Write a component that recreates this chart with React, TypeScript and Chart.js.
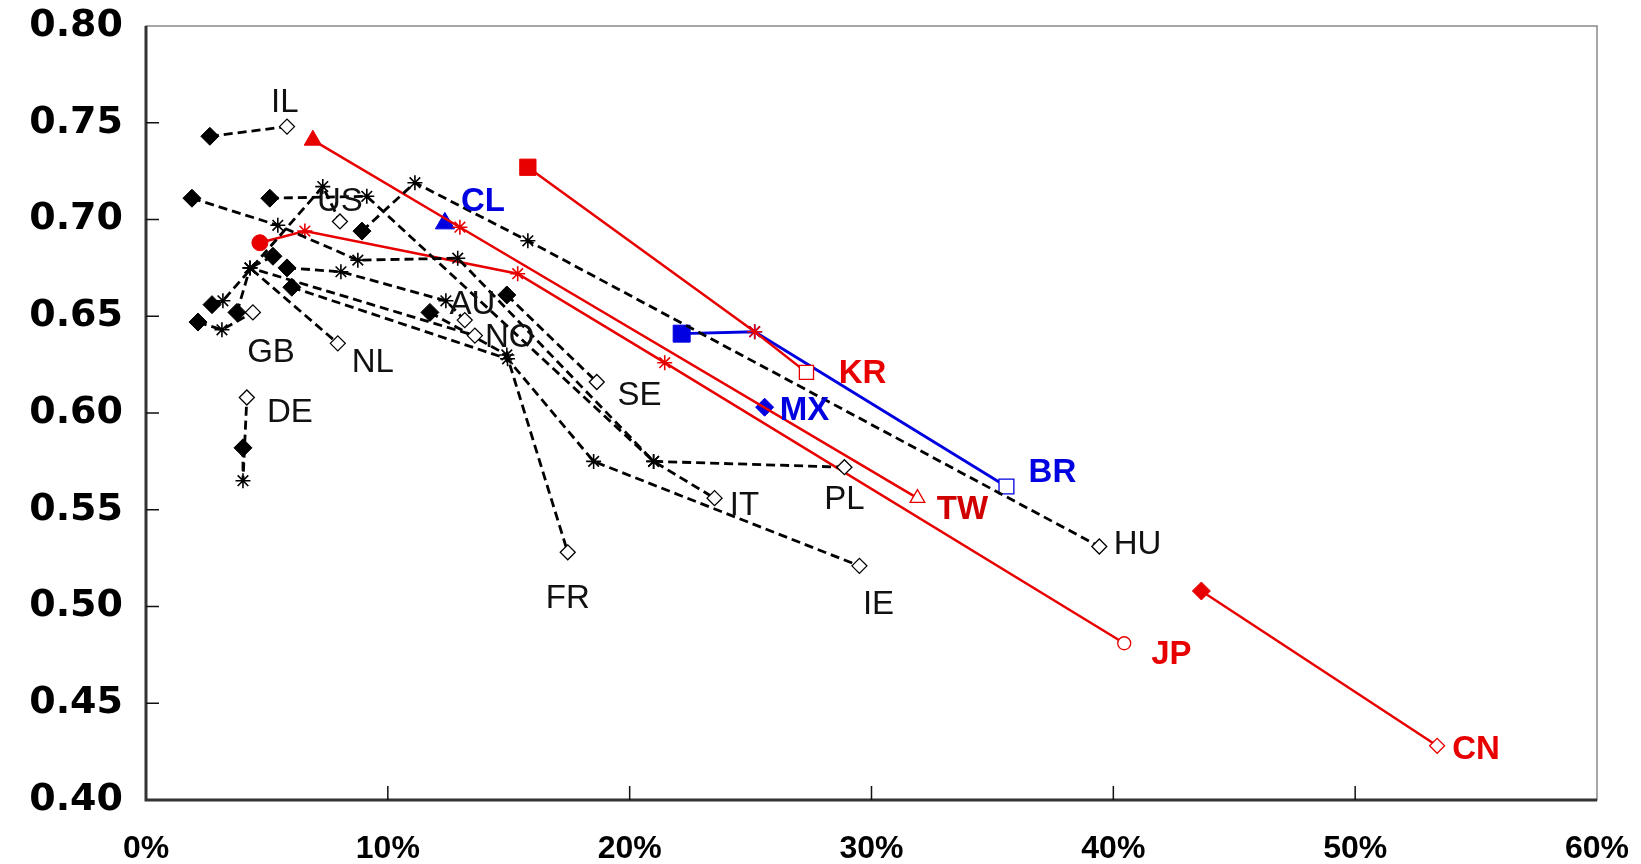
import React, { useEffect, useRef } from 'react';
import { Chart, registerables } from 'chart.js';

Chart.register(...registerables);

// ---------- tick labels ----------
const X_TICK_VALUES = [0, 10, 20, 30, 40, 50, 60];
const X_TICK_LABELS = ['0%', '10%', '20%', '30%', '40%', '50%', '60%'];
const Y_TICK_VALUES = [0.4, 0.45, 0.5, 0.55, 0.6, 0.65, 0.7, 0.75, 0.8];
const Y_TICK_LABELS = ['0.40', '0.45', '0.50', '0.55', '0.60', '0.65', '0.70', '0.75', '0.80'];

// ---------- series (x in %, y index) : first = filled, middle = asterisk, last = open ----------
const IL = [{ x: 2.64, y: 0.743 }, { x: 5.83, y: 0.748 }];
const US = [{ x: 2.73, y: 0.656 }, { x: 3.18, y: 0.658 }, { x: 7.31, y: 0.717 }, { x: 8.02, y: 0.699 }];
const GB = [{ x: 2.15, y: 0.647 }, { x: 3.14, y: 0.643 }, { x: 4.42, y: 0.652 }];
const NL = [{ x: 5.25, y: 0.681 }, { x: 4.3, y: 0.675 }, { x: 7.93, y: 0.636 }];
const DE = [{ x: 4.01, y: 0.582 }, { x: 4.01, y: 0.565 }, { x: 4.17, y: 0.608 }];
const HU = [{ x: 8.93, y: 0.694 }, { x: 11.12, y: 0.719 }, { x: 15.79, y: 0.689 }, { x: 39.42, y: 0.531 }];
const SE = [{ x: 14.92, y: 0.661 }, { x: 18.64, y: 0.616 }];
const IT = [{ x: 5.12, y: 0.711 }, { x: 9.13, y: 0.712 }, { x: 20.99, y: 0.575 }, { x: 23.51, y: 0.556 }];
const PL = [{ x: 1.9, y: 0.711 }, { x: 5.45, y: 0.697 }, { x: 8.76, y: 0.679 }, { x: 12.89, y: 0.68 }, { x: 20.99, y: 0.575 }, { x: 28.88, y: 0.572 }];
const AU = [{ x: 5.83, y: 0.675 }, { x: 8.06, y: 0.673 }, { x: 12.4, y: 0.658 }, { x: 13.18, y: 0.648 }];
const NO = [{ x: 3.76, y: 0.652 }, { x: 4.3, y: 0.675 }, { x: 13.6, y: 0.64 }];
const FR = [{ x: 11.74, y: 0.652 }, { x: 14.92, y: 0.63 }, { x: 17.44, y: 0.528 }];
const IE = [{ x: 6.03, y: 0.665 }, { x: 14.95, y: 0.628 }, { x: 18.51, y: 0.575 }, { x: 29.5, y: 0.521 }];

const JP = [{ x: 4.71, y: 0.688 }, { x: 6.57, y: 0.694 }, { x: 15.37, y: 0.672 }, { x: 21.45, y: 0.626 }, { x: 40.45, y: 0.481 }];
const TW = [{ x: 6.9, y: 0.741 }, { x: 12.98, y: 0.696 }, { x: 31.9, y: 0.556 }];
const KR = [{ x: 15.79, y: 0.727 }, { x: 25.17, y: 0.642 }, { x: 27.31, y: 0.621 }];
const CN = [{ x: 43.64, y: 0.508 }, { x: 53.39, y: 0.428 }];

const CL = [{ x: 12.36, y: 0.698 }];
const MX = [{ x: 25.58, y: 0.603 }];
const BR = [{ x: 22.15, y: 0.641 }, { x: 25.17, y: 0.642 }, { x: 35.58, y: 0.562 }];

// ---------- country labels (anchor in data units) ----------
const LABEL_TEXT = ['IL', 'US', 'GB', 'NL', 'DE', 'AU', 'NO', 'SE', 'FR', 'IT', 'PL', 'IE', 'HU', 'KR', 'BR', 'TW', 'MX', 'CL', 'JP', 'CN'];
const LABEL_X = [5.74, 8.02, 5.17, 9.38, 5.95, 13.5, 15.04, 20.41, 17.44, 24.75, 28.88, 30.29, 41.0, 29.63, 37.48, 33.76, 27.23, 13.93, 42.4, 55.0];
const LABEL_Y = [0.76, 0.709, 0.631, 0.626, 0.6, 0.656, 0.639, 0.609, 0.504, 0.552, 0.555, 0.501, 0.532, 0.62, 0.569, 0.55, 0.601, 0.709, 0.475, 0.426];

const BLACK = '#000000';
const RED = '#e80000';
const BLUE = '#0000e0';
const LABEL_COLOR: Record<string, string> = {
  KR: RED, TW: '#d00000', JP: RED, CN: RED, BR: BLUE, MX: BLUE, CL: BLUE,
};
const FONT = '"Liberation Sans", Arial, sans-serif';

type Style = { color: string; shape: string; dashed: boolean; width: number; r: number };

function makeDataset(label: string, data: { x: number; y: number }[], st: Style) {
  const n = data.length;
  return {
    label,
    data,
    showLine: true,
    tension: 0,
    borderColor: st.color,
    borderWidth: st.width,
    borderDash: st.dashed ? [9, 5] : [],
    pointStyle: (c: any) => {
      const i = c.dataIndex;
      if (n === 1 || i === 0 || i === n - 1) return st.shape;
      return 'star';
    },
    pointBackgroundColor: (c: any) => {
      const i = c.dataIndex;
      if (n > 1 && i === n - 1) return '#ffffff';
      return st.color;
    },
    pointBorderColor: st.color,
    pointBorderWidth: (c: any) => {
      const i = c.dataIndex;
      if (n === 1 || i === 0) return 1;
      if (i === n - 1) return 1.3;
      return 1.6;
    },
    pointRadius: (c: any) => {
      const i = c.dataIndex;
      if (n === 1 || i === 0) return st.r;
      if (i === n - 1) return st.r - 1.5;
      return 7.5;
    },
    pointHoverRadius: 0,
  };
}

const framePlugin = {
  id: 'frame',
  beforeDatasetsDraw(chart: any) {
    const { ctx, chartArea: a, scales } = chart;
    ctx.save();
    ctx.strokeStyle = '#888';
    ctx.lineWidth = 1.5;
    ctx.strokeRect(a.left, a.top, a.right - a.left, a.bottom - a.top);
    ctx.strokeStyle = '#333';
    ctx.lineWidth = 3;
    ctx.beginPath();
    ctx.moveTo(a.left, a.top);
    ctx.lineTo(a.left, a.bottom);
    ctx.lineTo(a.right, a.bottom);
    ctx.stroke();
    ctx.lineWidth = 1.5;
    ctx.strokeStyle = '#111';
    ctx.beginPath();
    Y_TICK_VALUES.slice(1, -1).forEach((v) => {
      const y = scales.y.getPixelForValue(v);
      ctx.moveTo(a.left, y);
      ctx.lineTo(a.left + 13, y);
    });
    X_TICK_VALUES.slice(1, -1).forEach((v) => {
      const x = scales.x.getPixelForValue(v);
      ctx.moveTo(x, a.bottom);
      ctx.lineTo(x, a.bottom - 14);
    });
    ctx.stroke();
    ctx.restore();
  },
};

const labelPlugin = {
  id: 'countryLabels',
  afterDatasetsDraw(chart: any) {
    const { ctx, scales } = chart;
    ctx.save();
    ctx.textAlign = 'center';
    ctx.textBaseline = 'middle';
    LABEL_TEXT.forEach((t, i) => {
      const col = LABEL_COLOR[t];
      ctx.font = (col ? 'bold ' : '') + '33px ' + FONT;
      ctx.fillStyle = col || '#111';
      ctx.fillText(t, scales.x.getPixelForValue(LABEL_X[i]), scales.y.getPixelForValue(LABEL_Y[i]));
    });
    ctx.restore();
  },
};

export default function App() {
  const ref = useRef<HTMLCanvasElement | null>(null);
  useEffect(() => {
    if (!ref.current) return;
    const blk: Style = { color: BLACK, shape: 'rectRot', dashed: true, width: 2.8, r: 9 };
    const datasets = [
      makeDataset('IL', IL, blk),
      makeDataset('US', US, blk),
      makeDataset('GB', GB, blk),
      makeDataset('NL', NL, blk),
      makeDataset('DE', DE, blk),
      makeDataset('HU', HU, blk),
      makeDataset('SE', SE, blk),
      makeDataset('IT', IT, blk),
      makeDataset('PL', PL, blk),
      makeDataset('AU', AU, blk),
      makeDataset('NO', NO, blk),
      makeDataset('FR', FR, blk),
      makeDataset('IE', IE, blk),
      makeDataset('JP', JP, { color: RED, shape: 'circle', dashed: false, width: 2.5, r: 8 }),
      makeDataset('TW', TW, { color: RED, shape: 'triangle', dashed: false, width: 2.5, r: 10 }),
      makeDataset('KR', KR, { color: RED, shape: 'rect', dashed: false, width: 2.5, r: 11.5 }),
      makeDataset('CN', CN, { color: RED, shape: 'rectRot', dashed: false, width: 2.5, r: 9 }),
      makeDataset('BR', BR, { color: BLUE, shape: 'rect', dashed: false, width: 2.8, r: 12 }),
      makeDataset('CL', CL, { color: BLUE, shape: 'triangle', dashed: false, width: 2.8, r: 11 }),
      makeDataset('MX', MX, { color: BLUE, shape: 'rectRot', dashed: false, width: 2.8, r: 9 }),
    ];
    const chart = new Chart(ref.current, {
      type: 'scatter',
      data: { datasets } as any,
      options: {
        animation: false,
        responsive: true,
        maintainAspectRatio: false,
        layout: { padding: { left: 0, right: 44, top: 26, bottom: 0 } },
        plugins: { legend: { display: false }, tooltip: { enabled: false } },
        scales: {
          x: {
            type: 'linear',
            min: 0,
            max: 60,
            afterFit: (s: any) => { s.height = 64; s.paddingLeft = 0; s.paddingRight = 0; },
            afterBuildTicks: (s: any) => { s.ticks = X_TICK_VALUES.map((v) => ({ value: v })); },
            grid: { display: false, drawTicks: false },
            border: { display: false },
            ticks: {
              padding: 30,
              color: '#000',
              font: { family: FONT, size: 32, weight: 'bold' },
              callback: (v: any) => X_TICK_LABELS[X_TICK_VALUES.indexOf(Math.round(Number(v)))] ?? '',
              maxRotation: 0,
              autoSkip: false,
            },
          },
          y: {
            type: 'linear',
            min: 0.4,
            max: 0.8,
            afterFit: (s: any) => { s.width = 146; s.paddingTop = 0; s.paddingBottom = 0; },
            afterBuildTicks: (s: any) => { s.ticks = Y_TICK_VALUES.map((v) => ({ value: v })); },
            grid: { display: false, drawTicks: false },
            border: { display: false },
            ticks: {
              padding: 23,
              color: '#000',
              font: { family: '"DejaVu Sans", sans-serif', size: 38, weight: 'bold' },
              callback: (v: any) => {
                const i = Y_TICK_VALUES.findIndex((t) => Math.abs(t - Number(v)) < 1e-6);
                return i >= 0 ? Y_TICK_LABELS[i] : '';
              },
              autoSkip: false,
            },
          },
        },
      } as any,
      plugins: [framePlugin, labelPlugin],
    });
    return () => chart.destroy();
  }, []);
  return (
    <div style={{ position: 'fixed', left: 0, top: 0, width: 1641, height: 864, background: '#fff' }}>
      <canvas ref={ref} />
    </div>
  );
}
